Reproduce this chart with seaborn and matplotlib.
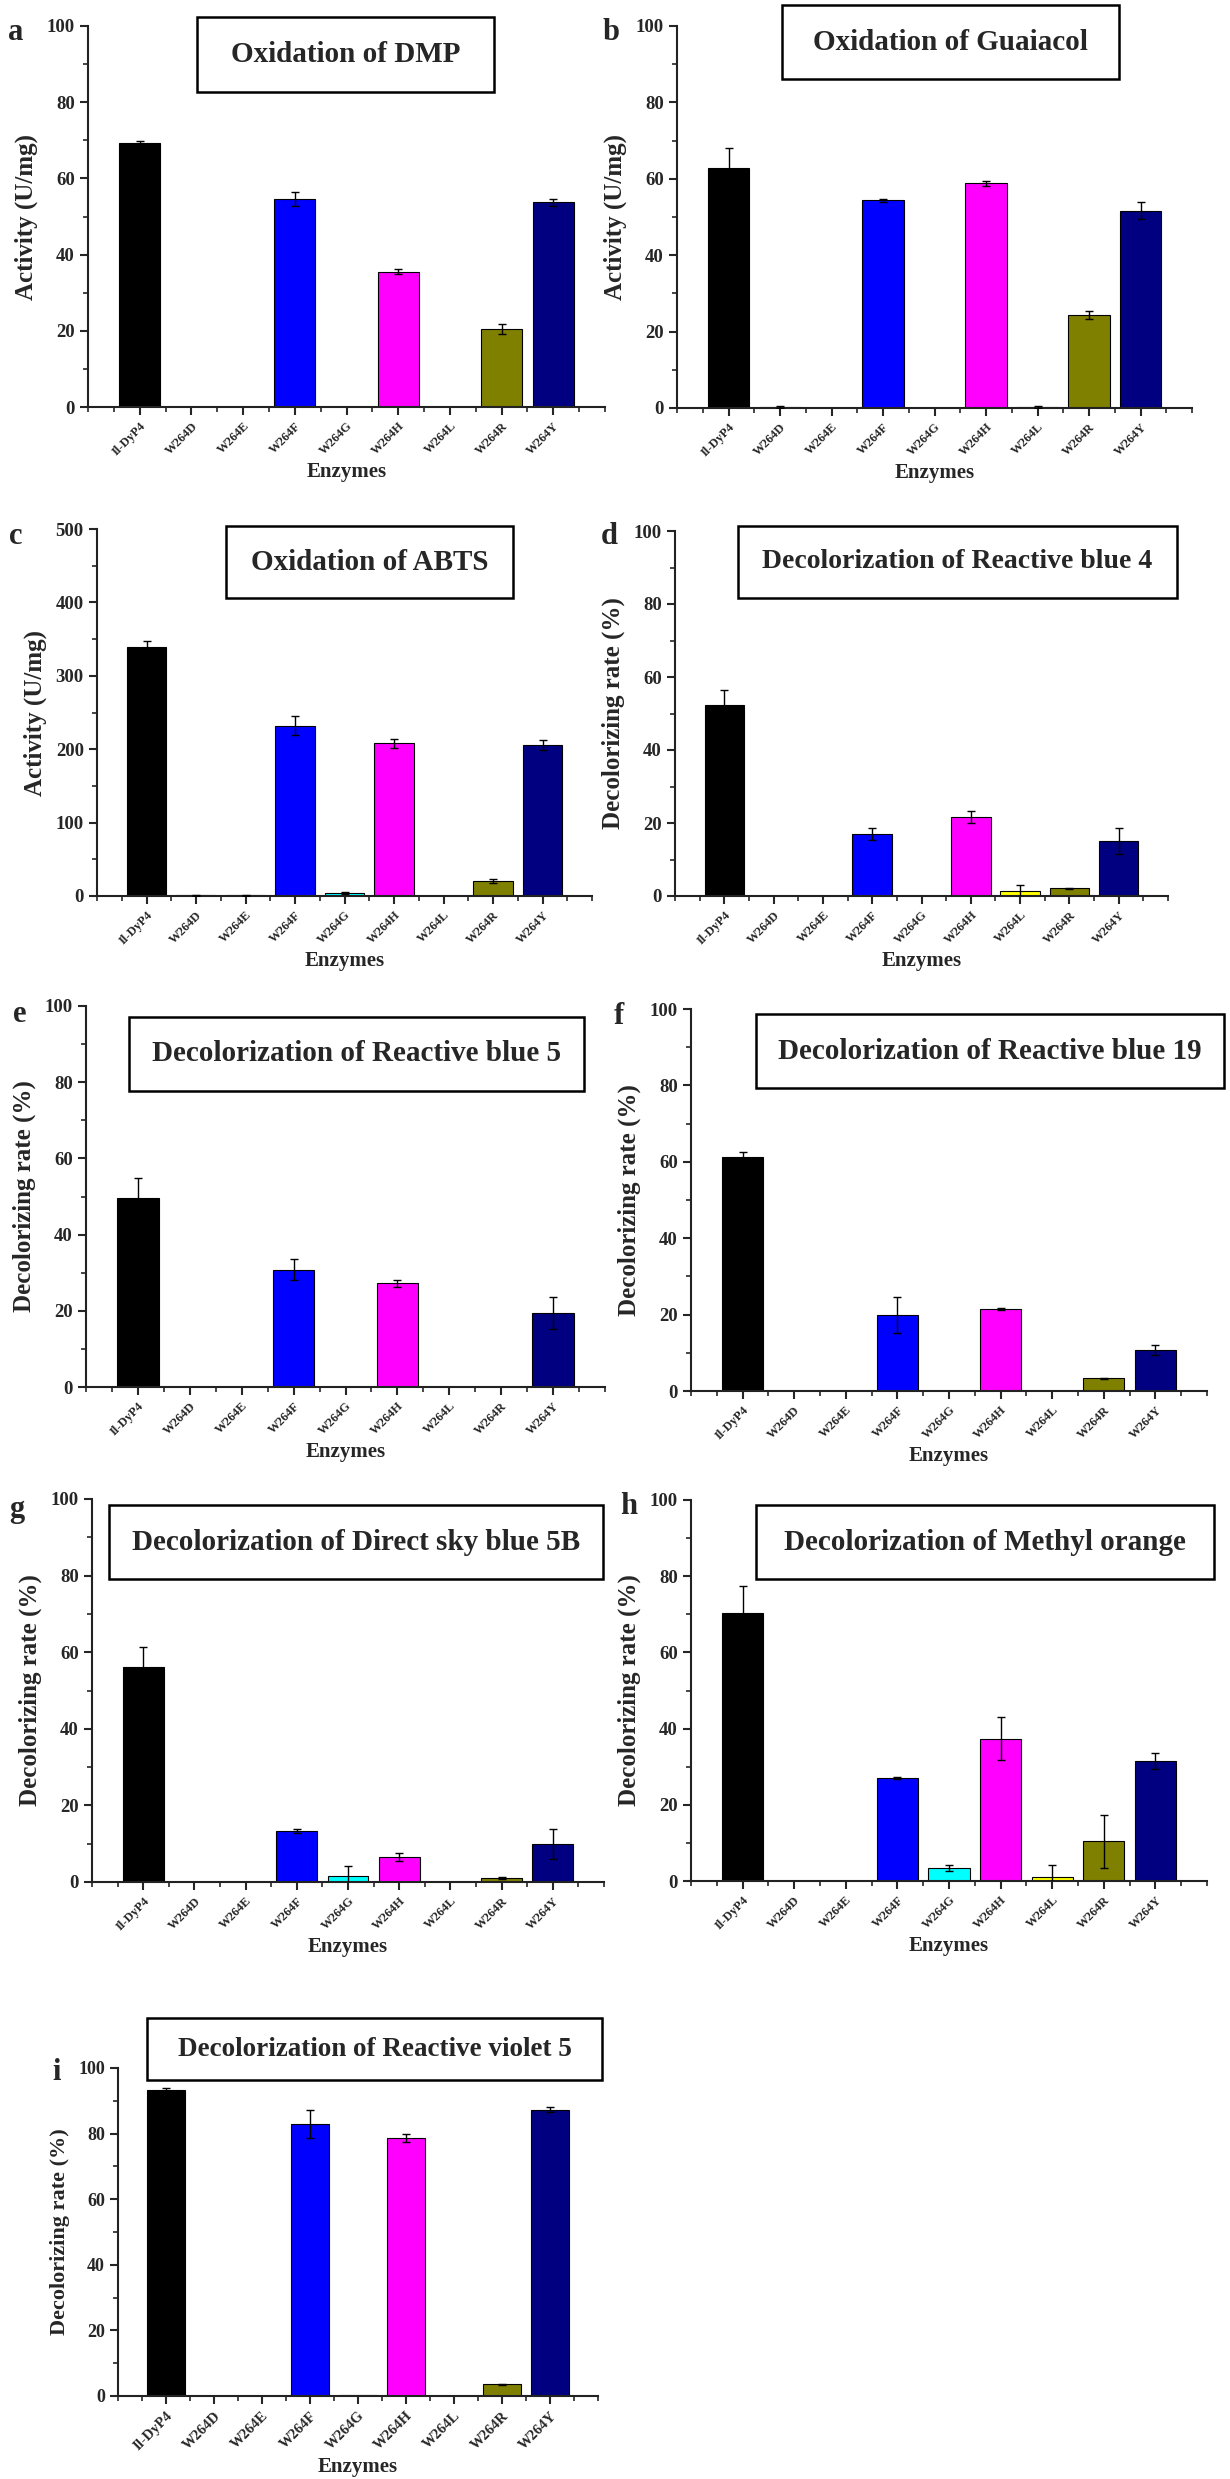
import matplotlib
matplotlib.use("Agg")
import matplotlib.pyplot as plt
from matplotlib.patches import Rectangle
from matplotlib.ticker import MultipleLocator
import seaborn as sns

# data
enzymes = ["Il-DyP4", "W264D", "W264E", "W264F", "W264G", "W264H", "W264L", "W264R", "W264Y"]
bar_colors = ["#000000", "#FF0000", "#00FF00", "#0000FF", "#00FFFF",
              "#FF00FF", "#FFFF00", "#808000", "#000080"]

dmp = [69.2, 0, 0, 54.5, 0, 35.5, 0, 20.5, 53.7]
dmp_err = [0.6, 0, 0, 1.8, 0, 0.7, 0, 1.4, 0.9]
guaiacol = [62.7, 0.2, 0, 54.4, 0, 58.8, 0.3, 24.3, 51.7]
guaiacol_err = [5.4, 0.2, 0, 0.4, 0, 0.6, 0.3, 1.0, 2.2]
abts = [339, 1, 1, 232, 4, 208, 0, 20.5, 205.5]
abts_err = [9, 1, 1, 13, 1, 6, 0, 2.5, 7]
rb4 = [52.2, 0, 0, 17.0, 0, 21.7, 1.4, 2.1, 15.1]
rb4_err = [4.2, 0, 0, 1.7, 0, 1.7, 1.6, 0.2, 3.6]
rb5 = [49.6, 0, 0, 30.8, 0, 27.2, 0, 0, 19.4]
rb5_err = [5.2, 0, 0, 2.8, 0, 1.0, 0, 0, 4.2]
rb19 = [61.2, 0, 0, 19.9, 0, 21.4, 0, 3.3, 10.8]
rb19_err = [1.3, 0, 0, 4.6, 0, 0.3, 0, 0.1, 1.3]
dsb5b = [56.2, 0, 0, 13.3, 1.5, 6.6, 0, 1.1, 10.0]
dsb5b_err = [5.2, 0, 0, 0.6, 2.7, 1.0, 0, 0.2, 3.9]
methyl_orange = [70.3, 0, 0, 27.1, 3.4, 37.4, 1.0, 10.4, 31.5]
methyl_orange_err = [7.1, 0, 0, 0.3, 0.9, 5.7, 3.3, 7.0, 2.1]
rv5 = [93.4, 0, 0, 83.0, 0.3, 78.7, 0, 3.6, 87.3]
rv5_err = [0.6, 0, 0, 4.2, 0, 1.3, 0, 0.1, 0.8]

titles = ["Oxidation of DMP", "Oxidation of Guaiacol", "Oxidation of ABTS",
          "Decolorization of Reactive blue 4", "Decolorization of Reactive blue 5",
          "Decolorization of Reactive blue 19", "Decolorization of Direct sky blue 5B",
          "Decolorization of Methyl orange", "Decolorization of Reactive violet 5"]
letters = ["a", "b", "c", "d", "e", "f", "g", "h", "i"]
ylabels = ["Activity (U/mg)"] * 3 + ["Decolorizing rate (%)"] * 6
ymax = [100, 100, 500, 100, 100, 100, 100, 100, 100]

panels = [(dmp, dmp_err), (guaiacol, guaiacol_err), (abts, abts_err),
          (rb4, rb4_err), (rb5, rb5_err), (rb19, rb19_err),
          (dsb5b, dsb5b_err), (methyl_orange, methyl_orange_err), (rv5, rv5_err)]

# layout in pixels: axes left, right, top, bottom ; title box x0, x1, y0, y1 ; letter x, y
W, H = 1230, 2479
layout = [
    ((88, 605, 26, 407), (197, 494, 17, 92), (16, 33), 21),
    ((677, 1192, 26, 408), (782, 1119, 5, 79), (611, 33), 21),
    ((97, 592, 529, 896), (226, 513, 526, 598), (16, 537), 21),
    ((675, 1168, 531, 896), (738, 1177, 526, 598), (609, 537), 20),
    ((86, 605, 1006, 1387), (129, 584, 1017, 1091), (20, 1015), 21),
    ((691, 1207, 1009, 1391), (756, 1224, 1014, 1088), (619, 1017), 21),
    ((92, 604, 1499, 1882), (109, 603, 1505, 1579), (17, 1510), 21),
    ((691, 1207, 1500, 1881), (756, 1214, 1505, 1579), (629, 1507), 21),
    ((118, 598, 2068, 2396), (147, 602, 2018, 2080), (57, 2073), 19.5),
]

sns.set_style("ticks")
plt.rcParams['font.family'] = ['Liberation Serif', 'DejaVu Serif']
plt.rcParams['font.weight'] = 'bold'
plt.rcParams['axes.labelweight'] = 'bold'

fig = plt.figure(figsize=(W / 100, H / 100), dpi=100)

for k in range(len(panels)):
    vals, errs = panels[k]
    (l, r, t, b), (bx0, bx1, by0, by1), (lx, ly), tsize = layout[k]
    ax = fig.add_axes([l / W, 1 - b / H, (r - l) / W, (b - t) / H])

    sns.barplot(x=enzymes, y=vals, hue=enzymes, palette=bar_colors, legend=False,
                saturation=1, edgecolor="black", linewidth=0.8, width=0.8, ax=ax)
    xs = [i for i in range(len(vals)) if errs[i] > 0]
    ax.errorbar(xs, [vals[i] for i in xs], yerr=[errs[i] for i in xs], fmt="none",
                ecolor="black", elinewidth=1, capsize=3, capthick=1, zorder=5)

    ax.set_xlim(-1, 9)
    ax.set_ylim(0, ymax[k])
    ax.yaxis.set_major_locator(MultipleLocator(ymax[k] / 5))
    ax.yaxis.set_minor_locator(MultipleLocator(ymax[k] / 10))
    ax.xaxis.set_minor_locator(MultipleLocator(0.5))
    sns.despine(ax=ax)
    for s in ["left", "bottom"]:
        ax.spines[s].set_linewidth(1.5)
        ax.spines[s].set_color("#222222")
    ax.tick_params(which="major", direction="out", length=6, width=1.5)
    ax.tick_params(which="minor", direction="out", length=3.5, width=1.2)
    ax.tick_params(axis="y", labelsize=13.5 if k < 8 else 13)
    ax.set_xticks(range(len(enzymes)))
    ax.set_xticklabels(enzymes, rotation=45, ha="right", rotation_mode="anchor",
                       fontsize=9 if k < 8 else 10.5, fontweight="bold")
    for lab in ax.get_yticklabels():
        lab.set_fontweight("bold")
    ax.set_xlabel("Enzymes", fontsize=15, fontweight="bold", labelpad=3)
    ax.set_ylabel(ylabels[k], fontsize=18 if k < 8 else 16, fontweight="bold", labelpad=6)

    # title box
    fig.add_artist(Rectangle((bx0 / W, 1 - by1 / H), (bx1 - bx0) / W, (by1 - by0) / H,
                             transform=fig.transFigure, facecolor="white",
                             edgecolor="black", linewidth=1.8, zorder=10))
    fig.text((bx0 + bx1) / 2 / W, 1 - (by0 + by1) / 2 / H, titles[k], ha="center",
             va="center", fontsize=tsize, fontweight="bold", zorder=11)
    fig.text(lx / W, 1 - ly / H, letters[k], ha="center", va="center",
             fontsize=22, fontweight="bold")

fig.savefig("out.png", dpi=100, facecolor="white")
